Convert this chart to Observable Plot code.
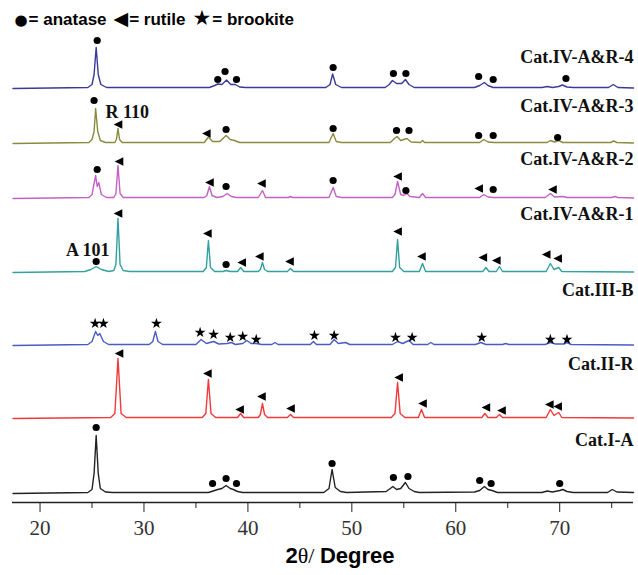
<!DOCTYPE html>
<html><head><meta charset="utf-8">
<script src="https://cdn.jsdelivr.net/npm/d3@7"></script>
<script src="https://cdn.jsdelivr.net/npm/@observablehq/plot@0.6"></script>
<style>body{margin:0;background:#fff}</style>
</head><body><div id="chart"></div><script>
// ---- data (2θ, intensity above each pattern's own baseline) ----
const seriesNames = ["Cat.IV-A&R-4", "Cat.IV-A&R-3", "Cat.IV-A&R-2", "Cat.IV-A&R-1", "Cat.III-B", "Cat.II-R", "Cat.I-A"];
const seriesColors = ["#3b3b95", "#8a8a40", "#c462c4", "#33a0a0", "#4a5cc0", "#f03a3a", "#222222"];
const stackOffsets = [414, 359, 304, 230, 157, 84, 9];
const labelRise = [31, 37, 39.5, 58, 55.5, 54.5, 53];

const catIVAR4 = [[17.4,0],[24.6,1],[25.0,4],[25.2,14],[25.4,41],[25.6,14],[25.85,4],[26.4,1],[36.3,1],[36.8,3],[37.1,4.5],[37.5,4],[37.95,8.5],[38.35,4],[38.8,4],[39.2,1.5],[39.8,1],[47.5,1],[47.9,4],[48.15,14.5],[48.45,4],[49.0,1],[53.2,1],[53.6,4],[53.9,8],[54.3,5],[54.8,5],[55.15,9],[55.5,4],[56.0,1],[61.8,1],[62.3,3],[62.75,6],[63.1,3],[63.6,1],[68.3,1],[68.8,2],[69.3,1],[69.9,2],[70.25,3.5],[70.7,1.5],[71.3,1],[74.7,1],[75.15,4],[75.6,1],[77.1,0.5]];
const catIVAR3 = [[17.4,0],[24.7,1],[25.0,4],[25.2,12],[25.35,35],[25.55,12],[25.8,3],[26.3,1],[27.2,1],[27.35,4],[27.5,15],[27.65,4],[27.9,1],[35.8,1],[36.2,6.5],[36.6,2],[37.3,2],[37.9,8],[38.3,4],[38.7,3],[39.2,1],[47.8,1],[48.2,10],[48.5,2],[49.0,1],[53.7,1],[54.1,5],[54.35,7],[54.7,3],[55.3,5],[55.7,1.5],[56.6,1],[56.8,3],[57.0,1],[62.3,1],[62.7,4],[63.1,1.5],[63.7,1],[68.8,1],[69.1,3],[69.5,1.5],[69.9,3],[70.3,1],[74.9,1],[75.2,2.5],[75.5,1],[77.1,0.5]];
const catIVAR2 = [[17.4,0],[24.7,1],[25.0,4],[25.35,23],[25.5,12],[25.65,16],[25.9,4],[26.4,1],[27.1,1],[27.3,5],[27.5,33],[27.7,5],[28.0,1],[35.8,1],[36.05,3],[36.3,12],[36.55,3],[37.0,1],[37.6,2],[38.0,5],[38.4,2],[38.9,1],[41.0,1],[41.4,8],[41.7,1],[43.9,1],[44.1,2],[44.3,1],[47.8,1],[48.2,11],[48.5,2],[49.0,1],[53.9,1],[54.15,4],[54.4,17],[54.7,4],[55.0,3],[55.3,5],[55.6,2],[56.5,1],[56.8,5],[57.1,1],[62.3,1],[62.7,4],[63.1,1.5],[63.6,1],[68.6,1],[69.1,5],[69.5,1.5],[70.3,2],[70.7,1],[75.0,1],[75.3,2],[75.6,1],[77.1,0.5]];
const catIVAR1 = [[17.4,0],[24.3,1],[24.9,3],[25.4,6],[25.9,3],[26.6,1],[27.1,2],[27.3,8],[27.5,54],[27.7,8],[28.0,2],[28.6,1],[35.7,1],[36.0,5],[36.2,32],[36.4,5],[36.8,1],[37.6,1],[37.9,2],[38.3,1],[39.0,1],[39.3,5],[39.6,1],[41.0,1],[41.2,3],[41.4,10],[41.6,3],[41.9,1],[43.8,1],[44.1,4],[44.4,1],[53.9,1],[54.2,5],[54.4,33],[54.6,5],[55.0,1],[56.5,1],[56.8,9],[57.1,1],[62.6,1],[62.9,5],[63.2,1],[63.9,1],[64.2,6],[64.5,1],[68.7,1],[69.1,9],[69.45,3],[69.9,5],[70.2,1],[77.1,0.5]];
const catIIIB = [[17.4,0],[24.6,1],[25.0,4],[25.35,14],[25.55,10],[25.75,12],[26.1,4],[26.6,1],[30.5,1],[30.85,4],[31.1,14],[31.35,4],[31.8,1],[35.0,1],[35.5,6],[36.0,2],[36.7,4],[37.2,1.5],[38.0,2],[38.4,3],[38.8,1],[39.5,2],[39.9,5],[40.3,2],[40.8,2],[41.3,1],[42.3,1],[42.6,3],[42.9,1],[46.0,1],[46.3,4],[46.6,1],[47.9,1],[48.3,6],[48.7,2],[49.4,3],[49.8,1],[53.9,1],[54.4,4],[54.9,2],[55.5,5],[55.9,1],[57.3,1],[57.6,3],[57.9,1],[61.9,1],[62.4,3],[62.9,1],[64.5,1],[64.8,2],[65.1,1],[68.6,1],[69.1,3],[69.6,1.5],[70.4,1.5],[70.7,3],[71.1,1],[77.1,0.5]];
const catIIR = [[17.4,0],[26.8,1],[27.2,5],[27.5,60],[27.8,5],[28.3,1],[35.6,1],[35.95,5],[36.2,39],[36.45,5],[36.9,1],[39.0,1],[39.3,5],[39.6,1],[41.0,1],[41.2,4],[41.4,15],[41.6,4],[41.9,1],[43.8,1],[44.1,4],[44.4,1],[53.8,1],[54.15,5],[54.4,36],[54.65,5],[55.1,1],[56.4,1],[56.7,9],[57.0,1],[62.5,1],[62.8,5],[63.1,1],[63.9,1],[64.2,4],[64.5,1],[68.7,1],[69.1,9],[69.45,3],[69.9,6],[70.2,1],[77.1,0.5]];
const catIA = [[17.4,0],[24.6,1],[25.0,4],[25.2,20],[25.4,58],[25.6,20],[25.8,5],[26.3,1.5],[27,1],[36.2,1],[36.8,3],[37.1,4],[37.5,5],[37.9,8],[38.3,5],[38.6,4],[39.0,2],[39.5,1],[47.3,1],[47.8,5],[48.1,24],[48.4,6],[48.9,2],[49.5,1],[53.3,2],[53.7,5],[53.95,7],[54.3,4],[54.7,5],[55.15,11],[55.5,5],[56.0,2],[56.5,1],[61.8,1.5],[62.3,3],[62.75,7],[63.1,4],[63.5,3],[64.0,1],[68.3,1],[68.8,2.5],[69.3,1.5],[70.0,3],[70.3,4],[70.7,2],[71.3,1],[74.6,1],[75.05,4],[75.5,1.5],[77.1,1]];
const patterns = [catIVAR4, catIVAR3, catIVAR2, catIVAR1, catIIIB, catIIR, catIA];

// phase markers: [2θ, level above baseline, phase]
const markersIVAR4 = [[25.5,48,"A"],[37.1,9,"A"],[37.8,17,"A"],[38.9,9,"A"],[48.2,21,"A"],[54.0,15,"A"],[55.2,15,"A"],[62.2,12,"A"],[63.6,9,"A"],[70.6,10,"A"]];
const markersIVAR3 = [[25.2,43,"A"],[27.5,19,"R"],[36.0,10,"R"],[37.9,14,"A"],[48.2,15,"A"],[54.3,13,"A"],[55.5,13,"A"],[62.2,8,"A"],[63.6,8,"A"],[69.8,6,"A"]];
const markersIVAR2 = [[25.5,29,"A"],[27.6,37,"R"],[36.3,16,"R"],[37.9,12,"A"],[41.3,15,"R"],[48.2,18,"A"],[54.4,22,"R"],[55.2,8,"A"],[62.2,10,"R"],[63.6,9,"A"],[69.3,9,"R"]];
const markersIVAR1 = [[25.4,11,"A"],[27.5,59,"R"],[36.1,39,"R"],[37.9,8,"A"],[39.4,10,"R"],[41.1,16,"R"],[44.0,11,"R"],[54.4,41,"R"],[56.7,16,"R"],[62.6,15,"R"],[63.9,12,"R"],[68.7,18,"R"],[69.8,14,"R"]];
const markersIIIB = [[25.3,22,"B"],[26.1,22,"B"],[31.2,22,"B"],[35.4,13,"B"],[36.7,11,"B"],[38.3,8,"B"],[39.5,9,"B"],[40.8,6,"B"],[46.4,10,"B"],[48.3,10,"B"],[54.2,8,"B"],[55.8,8,"B"],[62.5,8,"B"],[69.1,6,"B"],[70.7,6,"B"]];
const markersIIR = [[27.6,65,"R"],[36.1,45,"R"],[39.2,9,"R"],[41.3,22,"R"],[44.1,10,"R"],[54.5,41,"R"],[56.8,15,"R"],[62.9,11,"R"],[64.4,8,"R"],[69.0,14,"R"],[69.8,12,"R"]];
const markersIA = [[25.4,66,"A"],[36.6,10,"A"],[37.9,15,"A"],[38.9,10,"A"],[48.1,30,"A"],[54.0,16,"A"],[55.4,17,"A"],[62.3,13,"A"],[63.4,10,"A"],[70.0,10,"A"]];
const markerSets = [markersIVAR4, markersIVAR3, markersIVAR2, markersIVAR1, markersIIIB, markersIIR, markersIA];

// reflection annotations: [text, 2θ, level, pattern index]
const reflections = [["R 110", 26.3, 31, 1], ["A 101", 22.5, 22, 3]];

const majorTicks = [20, 30, 40, 50, 60, 70];
const minorTicks = [25, 35, 45, 55, 65, 75];
const legendSymbols = ["●", "◀", "★"];
const legendNames = ["anatase", "rutile", "brookite"];
const legendText = legendSymbols.map((s, i) => s + "= " + legendNames[i]).join(" ");
const xLabel = "2θ/ Degree";

// ---- build tables ----
const lineRows = patterns.flatMap((p, i) => p.map(([x, v]) => ({series: seriesNames[i], x, y: v + stackOffsets[i]})));
const markRows = markerSets.flatMap((m, i) => m.map(([x, v, phase]) => ({x, y: v + stackOffsets[i], phase})));
const labelRows = seriesNames.map((s, i) => ({s, y: stackOffsets[i] + labelRise[i]}));
const reflRows = reflections.map(([t, x, v, i]) => ({t, x, y: v + stackOffsets[i]}));

const leftTriangle = {
  draw(context, size) {
    const r = Math.sqrt(size / Math.PI);
    context.moveTo(-r, 0);
    context.lineTo(r, -r);
    context.lineTo(r, r);
    context.closePath();
  }
};

const serif = "'Liberation Serif', 'Times New Roman', serif";
const sans = "'Liberation Sans', Arial, sans-serif";

const chart = Plot.plot({
  width: 638,
  height: 575,
  marginLeft: 12,
  marginRight: 5,
  marginTop: 0,
  marginBottom: 73,
  style: {background: "#fff", color: "#222"},
  x: {domain: [17.35, 77.1]},
  y: {domain: [0, 502], axis: null},
  color: {domain: seriesNames, range: seriesColors},
  marks: [
    Plot.line(lineRows, {x: "x", y: "y", z: "series", stroke: "series", strokeWidth: 1.4}),
    Plot.dot(markRows, {filter: d => d.phase === "A", x: "x", y: "y", symbol: "circle", r: 3.6, fill: "#000", stroke: "none"}),
    Plot.dot(markRows, {filter: d => d.phase === "R", x: "x", y: "y", symbol: leftTriangle, r: 4.3, fill: "#000", stroke: "none"}),
    Plot.dot(markRows, {filter: d => d.phase === "B", x: "x", y: "y", symbol: "star", r: 3.4, fill: "#000", stroke: "none"}),
    Plot.text(labelRows, {frameAnchor: "right", y: "y", text: "s", textAnchor: "end", lineAnchor: "middle", fontFamily: serif, fontWeight: "bold", fontSize: 18, fill: "#111"}),
    Plot.text(reflRows, {x: "x", y: "y", text: "t", textAnchor: "start", lineAnchor: "middle", fontFamily: serif, fontWeight: "bold", fontSize: 18, fill: "#111"}),
    Plot.text([legendText], {frameAnchor: "top-left", dx: 2, dy: 19, text: d => d, textAnchor: "start", lineAnchor: "middle", fontFamily: sans, fontWeight: "bold", fontSize: 17, fill: "#000"}),
    Plot.text([xLabel], {frameAnchor: "bottom", dx: 17, dy: 53, text: d => d, textAnchor: "middle", lineAnchor: "middle", fontFamily: sans, fontWeight: "bold", fontSize: 22, fill: "#000"}),
    Plot.ruleY([0], {stroke: "#222", strokeWidth: 1.3}),
    Plot.axisX({ticks: majorTicks, tickSize: 10, tickPadding: 8, tickFormat: d => String(d), fontSize: 21, fontFamily: serif, label: null, stroke: "#222", fill: "#333"}),
    Plot.axisX({ticks: minorTicks, tickSize: 6, tickFormat: () => "", label: null, stroke: "#222"})
  ]
});

const svg = d3.select(chart);
// rich text for the x-axis title: bold "2", regular serif θ
svg.selectAll("text").filter(function() { return this.textContent === xLabel; }).each(function() {
  const t = d3.select(this);
  t.text(null);
  t.append("tspan").text("2");
  t.append("tspan").attr("font-weight", "normal").attr("font-family", serif).text("θ/ ");
  t.append("tspan").text("Degree");
});
// legend: phase symbols at their own sizes
const symbolSizes = [15, 19, 21];
svg.selectAll("text").filter(function() { return this.textContent === legendText; }).each(function() {
  const t = d3.select(this);
  t.text(null);
  legendSymbols.forEach((s, i) => {
    t.append("tspan").attr("font-family", "'DejaVu Sans', sans-serif").attr("font-size", symbolSizes[i]).attr("dx", i === 0 ? 0 : 7).text(s);
    t.append("tspan").attr("dx", 1).text("= " + legendNames[i]);
  });
});

document.getElementById("chart").append(chart);
</script></body></html>
